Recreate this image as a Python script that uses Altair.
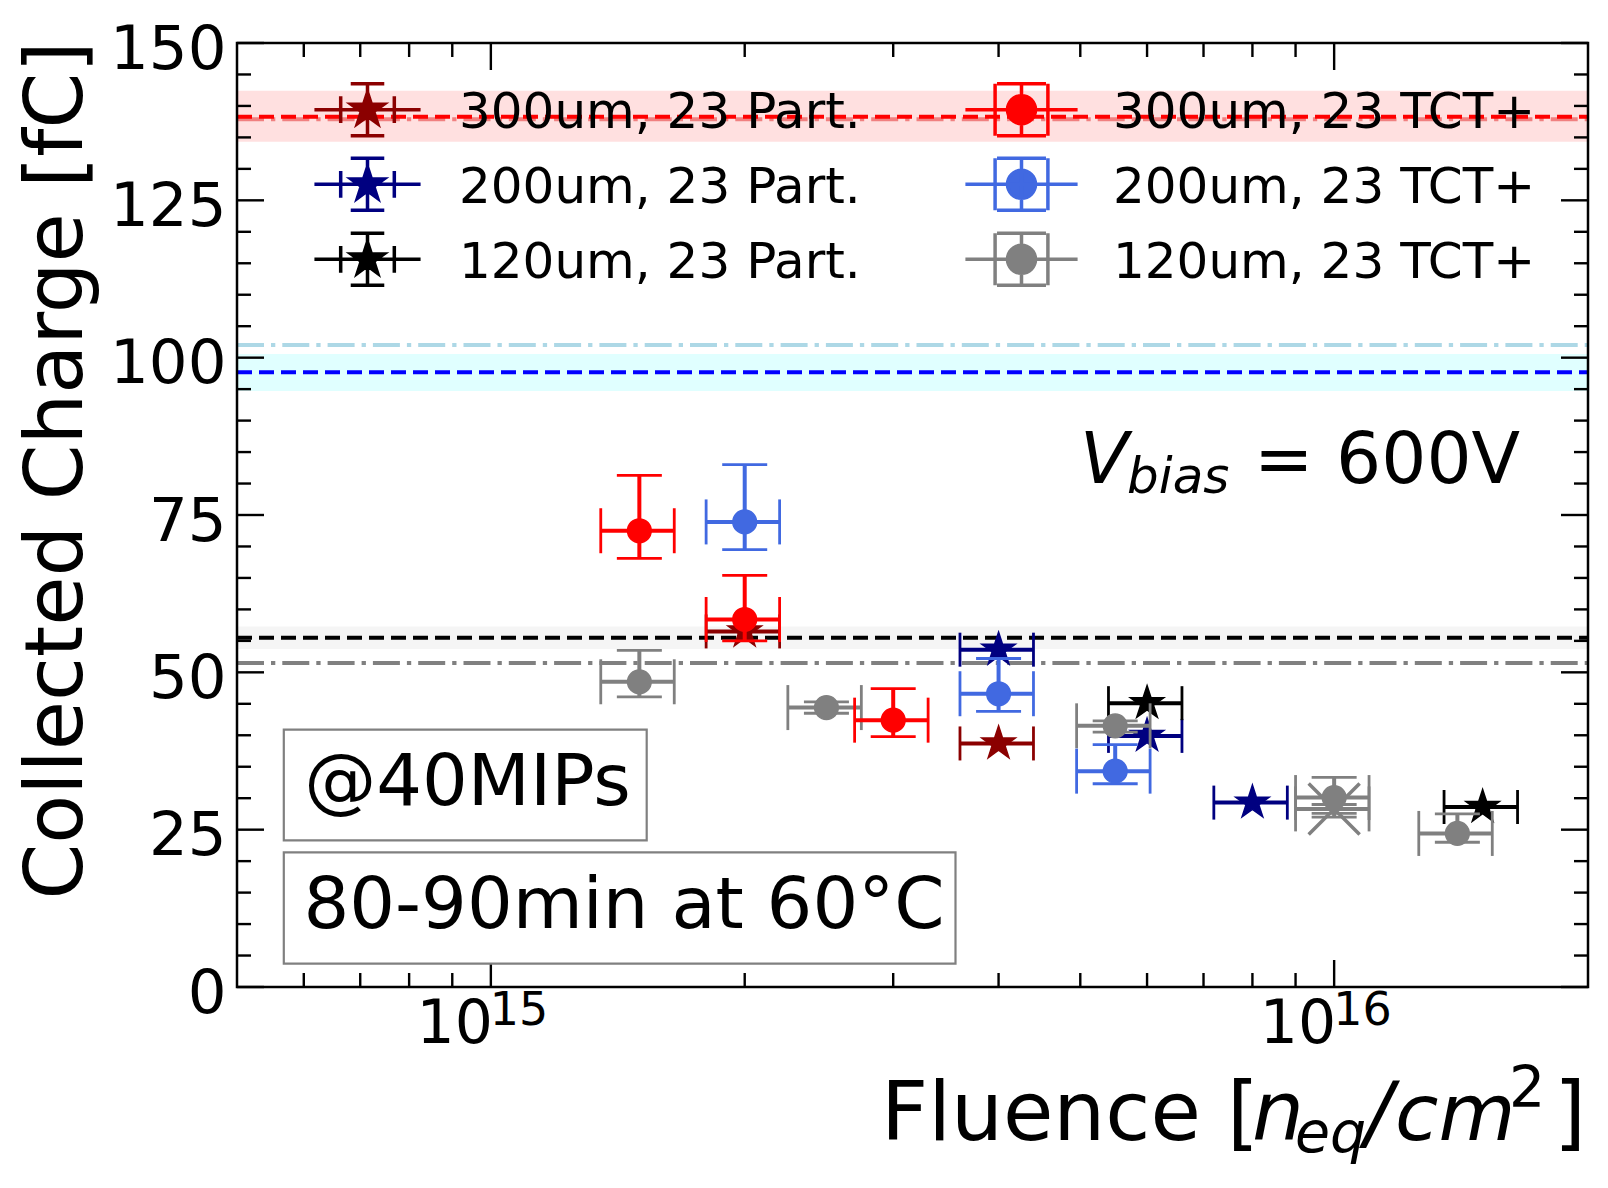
import altair as alt
import numpy as np
import pandas as pd

FONT = "DejaVu Sans"
W, H = 1351, 944

# ---------------- data ----------------
SERIES = ["300um, 23 Part.", "200um, 23 Part.", "120um, 23 Part.",
          "300um, 23 TCT+", "200um, 23 TCT+", "120um, 23 TCT+"]
COLORS = ["#8b0000", "#000080", "#000000", "#ff0000", "#4169e1", "#808080"]

FLUENCE_UNC = 0.10  # relative fluence uncertainty

# 23 Part. (stars)
part300_fluence = [2.0e15, 4.0e15]
part300_charge = [56.5, 38.7]
part200_fluence = [4.0e15, 6.0e15, 8.0e15]
part200_charge = [53.6, 39.9, 29.3]
part120_fluence = [6.0e15, 1.5e16]
part120_charge = [45.1, 28.6]

# 23 TCT+ (circles)
tct300_fluence = [1.5e15, 2.0e15, 3.0e15]
tct300_charge = [72.5, 58.4, 42.4]
tct300_low = [68.1, 55.0, 39.8]
tct300_high = [81.3, 65.4, 47.4]

tct200_fluence = [2.0e15, 4.0e15, 5.5e15]
tct200_charge = [73.9, 46.6, 34.3]
tct200_low = [69.5, 43.8, 32.3]
tct200_high = [83.0, 52.2, 38.5]

tct120_fluence = [1.5e15, 2.5e15, 5.5e15, 1.0e16, 1.4e16]
tct120_charge = [48.5, 44.4, 41.5, 30.1, 24.4]
tct120_low = [46.1, 43.5, 40.5, 27.0, 23.0]
tct120_high = [53.5, 45.3, 42.3, 33.3, 27.5]

# extra 120um point drawn with an "x" marker
extra120_fluence = [1.0e16]
extra120_charge = [28.3]
extra120_low = [27.6]
extra120_high = [29.0]

# unirradiated reference levels
band_low = [134.3, 94.7, 53.7]
band_high = [142.4, 100.6, 57.3]
dashdot_levels = [137.9, 102.0, 51.5]
dashed_levels = [138.3, 97.7, 55.5]

band_colors = ["#ffe0e0", "#e0ffff", "#f5f5f5"]
dashdot_colors = ["#f08080", "#add8e6", "#808080"]
dashed_colors = ["#ff0000", "#0000ff", "#000000"]

# axis ticks and tick labels
y_major = [0, 25, 50, 75, 100, 125, 150]
y_minor = [v for v in range(5, 150, 5) if v % 25]
x_major = [1e15, 1e16]
x_major_base = ["10", "10"]
x_major_exp = ["15", "16"]
x_minor = [6e14, 7e14, 8e14, 9e14, 2e15, 3e15, 4e15, 5e15, 6e15, 7e15, 8e15, 9e15]

# ---------------- shapes ----------------
def star_pts(R, r, cy=0.0):
    pts = []
    for k in range(10):
        a = -np.pi / 2 + k * np.pi / 5
        rad = R if k % 2 == 0 else r
        pts.append((rad * np.cos(a), cy + rad * np.sin(a)))
    return "M" + "L".join(f"{x:.3f},{y:.3f}" for x, y in pts) + "Z"


def circle_pts(R, cy=0.0, n=32):
    pts = [(R * np.cos(2 * np.pi * k / n), cy + R * np.sin(2 * np.pi * k / n)) for k in range(n)]
    return "M" + "L".join(f"{x:.3f},{y:.3f}" for x, y in pts) + "Z"


def errcross(line, ybar, ycap, xcap, xcaph, dy):
    return (f"M{-line},{dy:.3f}H{line}"
            f"M0,{-ybar + dy:.3f}V{ybar + dy:.3f}"
            f"M{-ycap},{-ybar + dy:.3f}H{ycap}M{-ycap},{ybar + dy:.3f}H{ycap}"
            f"M{-xcap},{-xcaph + dy:.3f}V{xcaph + dy:.3f}M{xcap},{-xcaph + dy:.3f}V{xcaph + dy:.3f}")


DY = -0.116
PART_SYM = errcross(1.93, 0.945, 0.61, 0.975, 0.485, DY) + star_pts(0.63, 0.24, DY)
TCT_SYM = errcross(2.04, 0.945, 0.89, 0.96, 0.945, DY) + circle_pts(0.51, DY)
PATHS = [PART_SYM, PART_SYM, PART_SYM, TCT_SYM, TCT_SYM, TCT_SYM]

STAR = star_pts(1.0, 0.382)
XMARK = "M-1,-1L1,1M-1,1L1,-1"

# ---------------- scales / axes ----------------
xscale = alt.Scale(type="log", domain=[5e14, 2e16], nice=False)
yscale = alt.Scale(domain=[0, 150], nice=False, zero=False)
xaxis = alt.Axis(values=x_major, labels=False, title=None, grid=False, ticks=False,
                 tickSize=0, domain=False)
yaxis = alt.Axis(values=y_major, format="d", title="Collected Charge [fC]",
                 grid=False, ticks=False, tickSize=0, domain=False,
                 labelFontSize=61, labelFont=FONT, labelColor="black",
                 labelPadding=11, labelBaseline="alphabetic", labelOffset=25,
                 labelFlush=False, labelOverlap=False,
                 titleFontSize=80, titleFont=FONT, titleFontWeight="normal",
                 titleColor="black", titleAngle=270, titleX=-156, titleY=427,
                 titleAlign="center", titleBaseline="alphabetic")


def X(f):
    return alt.X(f, type="quantitative", scale=xscale, axis=xaxis)


def Y(f):
    return alt.Y(f, type="quantitative", scale=yscale, axis=yaxis)


ONE = pd.DataFrame({"a": [0]})
layers = []

# bands and reference lines
for lo, hi, c in zip(band_low, band_high, band_colors):
    layers.append(alt.Chart(pd.DataFrame({"lo": [lo], "hi": [hi]})).mark_rect(color=c).encode(
        x=alt.value(0), x2=alt.value(W), y=Y("lo"), y2=alt.Y2("hi")))
for v, c in zip(dashdot_levels, dashdot_colors):
    layers.append(alt.Chart(pd.DataFrame({"v": [v]})).mark_rule(
        color=c, strokeWidth=4, strokeDash=[27, 7, 4.3, 7]).encode(
        x=alt.value(0), x2=alt.value(W), y=Y("v")))
for v, c in zip(dashed_levels, dashed_colors):
    layers.append(alt.Chart(pd.DataFrame({"v": [v]})).mark_rule(
        color=c, strokeWidth=4, strokeDash=[15, 7]).encode(
        x=alt.value(0), x2=alt.value(W), y=Y("v")))

# inward ticks on all four sides
for vals, ln in ((y_major, 27), (y_minor, 14)):
    d = pd.DataFrame({"v": vals})
    for xp in (ln / 2, W - ln / 2):
        layers.append(alt.Chart(d).mark_tick(orient="horizontal", size=ln, thickness=2.4,
                                             color="black", opacity=1).encode(
            x=alt.value(xp), y=Y("v")))
for vals, ln in ((x_major, 27), (x_minor, 14)):
    d = pd.DataFrame({"v": vals})
    for yp in (ln / 2, H - ln / 2):
        layers.append(alt.Chart(d).mark_tick(orient="vertical", size=ln, thickness=2.4,
                                             color="black", opacity=1).encode(
            y=alt.value(yp), x=X("v")))

# x tick labels 10^15, 10^16
xlab = pd.DataFrame({"v": x_major, "base": x_major_base, "exp": x_major_exp})
layers.append(alt.Chart(xlab).mark_text(font=FONT, fontSize=60, align="right",
                                        baseline="alphabetic", dx=2, color="black").encode(
    x=X("v"), y=alt.value(H + 56), text="base:N"))
layers.append(alt.Chart(xlab).mark_text(font=FONT, fontSize=46, align="left",
                                        baseline="alphabetic", dx=-1, color="black").encode(
    x=X("v"), y=alt.value(H + 38), text="exp:N"))


def frame(fl, q, lo=None, hi=None):
    d = pd.DataFrame({"fl": fl, "q": q})
    d["xlo"] = d["fl"] * (1 - FLUENCE_UNC)
    d["xhi"] = d["fl"] * (1 + FLUENCE_UNC)
    if lo is not None:
        d["lo"] = lo
        d["hi"] = hi
    return d


def series_layers(df, color, marker, cap, msize, filled=True, sw=1.5):
    base = alt.Chart(df)
    out = [
        base.mark_rule(color=color, strokeWidth=4).encode(x=X("xlo"), x2=alt.X2("xhi"), y=Y("q")),
        base.transform_fold(["xlo", "xhi"], as_=["side", "xe"]).mark_tick(
            orient="vertical", size=cap, thickness=2.8, color=color, opacity=1).encode(
            x=X("xe:Q"), y=Y("q")),
    ]
    if "lo" in df.columns:
        out.append(base.mark_rule(color=color, strokeWidth=4).encode(
            x=X("fl"), y=Y("lo"), y2=alt.Y2("hi")))
        out.append(base.transform_fold(["lo", "hi"], as_=["side", "ye"]).mark_tick(
            orient="horizontal", size=cap, thickness=2.8, color=color, opacity=1).encode(
            x=X("fl"), y=Y("ye:Q")))
    if filled:
        mk = base.mark_point(shape=marker, size=msize, filled=True, color=color, stroke=color,
                             strokeWidth=sw, opacity=1)
    else:
        mk = base.mark_point(shape=marker, size=msize, filled=False, color=color,
                             strokeWidth=sw, opacity=1)
    out.append(mk.encode(x=X("fl"), y=Y("q")))
    return out


STAR_SIZE = 1239
CIRC_SIZE = 560
C = dict(zip(SERIES, COLORS))
layers += series_layers(frame(part300_fluence, part300_charge), C["300um, 23 Part."], STAR, 34, STAR_SIZE)
layers += series_layers(frame(part200_fluence, part200_charge), C["200um, 23 Part."], STAR, 34, STAR_SIZE)
layers += series_layers(frame(part120_fluence, part120_charge), C["120um, 23 Part."], STAR, 34, STAR_SIZE)
layers += series_layers(frame(tct120_fluence, tct120_charge, tct120_low, tct120_high), C["120um, 23 TCT+"], "circle", 45, CIRC_SIZE)
layers += series_layers(frame(extra120_fluence, extra120_charge, extra120_low, extra120_high), C["120um, 23 TCT+"], XMARK, 45, 2600, filled=False, sw=3.5)
layers += series_layers(frame(tct200_fluence, tct200_charge, tct200_low, tct200_high), C["200um, 23 TCT+"], "circle", 45, CIRC_SIZE)
layers += series_layers(frame(tct300_fluence, tct300_charge, tct300_low, tct300_high), C["300um, 23 TCT+"], "circle", 45, CIRC_SIZE)


# annotations
def box(x0, x1, y0, y1):
    return alt.Chart(ONE).mark_rect(fill="white", stroke="#808080", strokeWidth=2.2).encode(
        x=alt.value(x0), x2=alt.value(x1), y=alt.value(y0), y2=alt.value(y1))


def txt(s, x, y, size, style="normal"):
    return alt.Chart(ONE).mark_text(text=s, font=FONT, fontSize=size, fontStyle=style,
                                    align="left", baseline="alphabetic", color="black").encode(
        x=alt.value(x), y=alt.value(y))


layers += [
    box(46.8, 409.7, 686.6, 797.3),
    box(46.8, 718.5, 809.3, 920.6),
    txt("@40MIPs", 67.2, 761.6, 72),
    txt("80-90min at 60°C", 66.5, 884.9, 72),
    txt("V", 843, 440, 71, "italic"),
    txt("bias", 890, 450, 50, "italic"),
    txt("= 600V", 1017, 440, 71),
    txt("Fluence [", 644, 1096.6, 82),
    txt("n", 1015, 1096.6, 82, "italic"),
    txt("eq", 1058, 1108.6, 57, "italic"),
    txt("/", 1128, 1096.6, 82, "italic"),
    txt("cm", 1158, 1096.6, 79, "italic"),
    txt("2", 1272, 1064, 57),
    txt("]", 1317, 1096.6, 82),
]

# frame
layers.append(alt.Chart(ONE).mark_rect(fill="transparent", stroke="black", strokeWidth=2.5).encode(
    x=alt.value(0), x2=alt.value(W), y=alt.value(0), y2=alt.value(H)))

# legend
LEG = alt.Legend(title=None, orient="none", legendX=72, legendY=40, columns=2,
                 columnPadding=97, rowPadding=8, symbolSize=3025, symbolStrokeWidth=3.5,
                 symbolOffset=29, labelOffset=62, labelFontSize=50, labelFont=FONT,
                 labelColor="black", labelLimit=1000, labelBaseline="middle", padding=0)
legend_layer = alt.Chart(pd.DataFrame({"series": SERIES})).transform_filter("false").mark_point(
    filled=True, opacity=1, strokeWidth=3.5).encode(
    color=alt.Color("series:N", scale=alt.Scale(domain=SERIES, range=COLORS), legend=LEG),
    stroke=alt.Stroke("series:N", scale=alt.Scale(domain=SERIES, range=COLORS), legend=LEG),
    shape=alt.Shape("series:N", scale=alt.Scale(domain=SERIES, range=PATHS), legend=LEG),
)
layers.append(legend_layer)

chart = alt.layer(*layers).properties(
    width=W, height=H,
    padding={"left": 229, "top": 35, "right": 12, "bottom": 185},
    autosize=alt.AutoSizeParams(type="none"),
).configure_view(strokeWidth=0)

chart.save("out.html", embed_options={"renderer": "svg", "actions": False})
